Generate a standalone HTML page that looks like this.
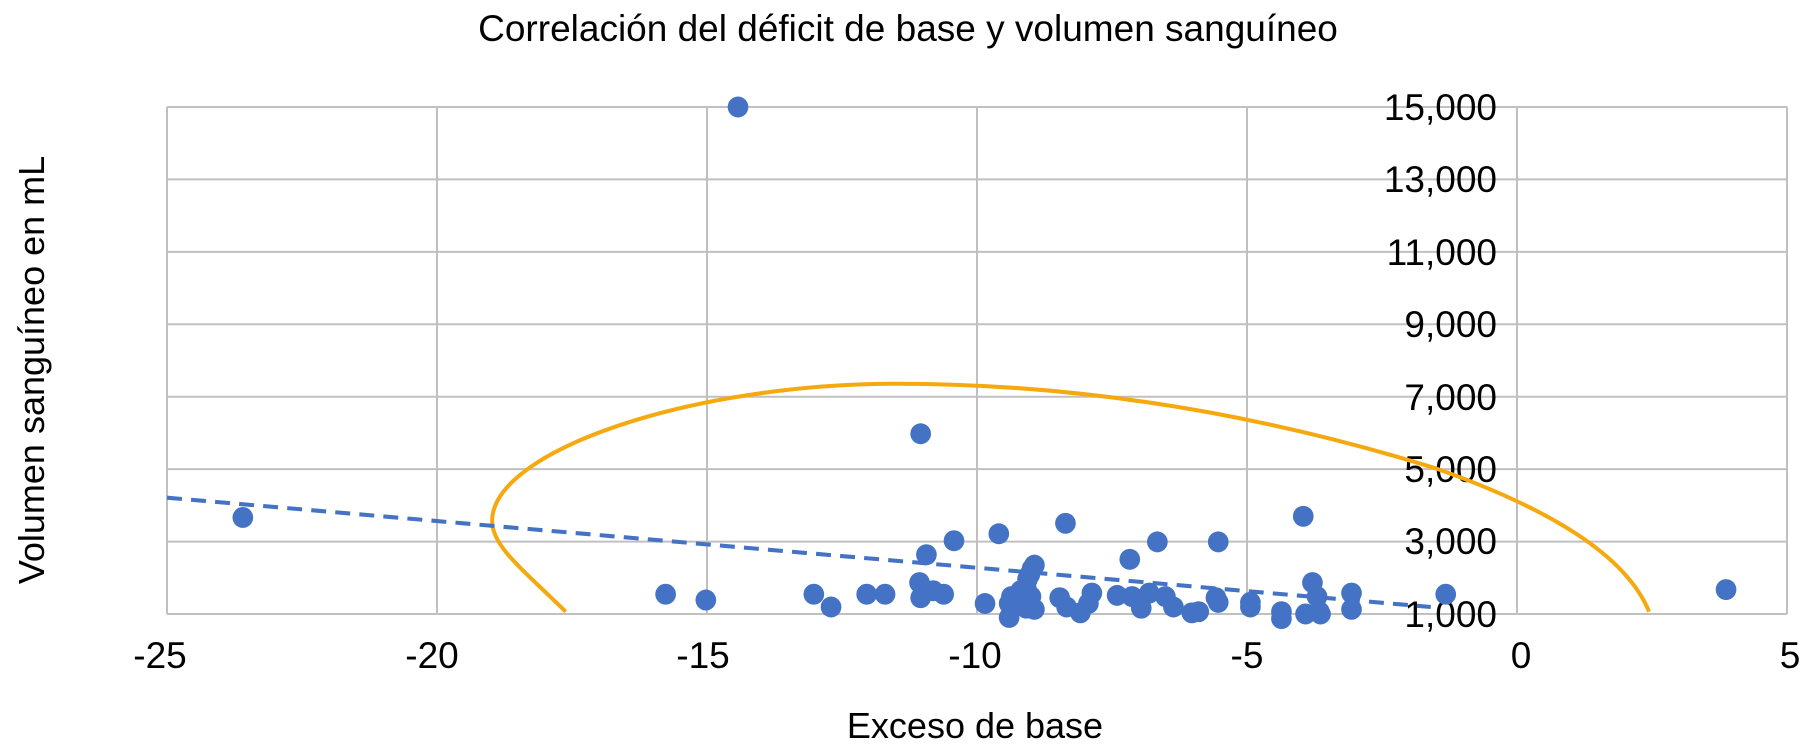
<!DOCTYPE html>
<html><head><meta charset="utf-8"><style>
html,body{margin:0;padding:0;background:#fff;}
svg{display:block;font-family:"Liberation Sans",Arial,sans-serif;}
</style></head><body>
<svg width="1800" height="756" viewBox="0 0 1800 756" xmlns="http://www.w3.org/2000/svg">
<rect width="1800" height="756" fill="#fff"/>
<text x="908" y="41" font-size="37" text-anchor="middle" fill="#000">Correlación del déficit de base y volumen sanguíneo</text>
<g stroke="#c0c0c0" stroke-width="2" fill="none">
<line x1="167" y1="107" x2="1787" y2="107"/>
<line x1="167" y1="179.4" x2="1787" y2="179.4"/>
<line x1="167" y1="251.9" x2="1787" y2="251.9"/>
<line x1="167" y1="324.3" x2="1787" y2="324.3"/>
<line x1="167" y1="396.7" x2="1787" y2="396.7"/>
<line x1="167" y1="469.1" x2="1787" y2="469.1"/>
<line x1="167" y1="541.6" x2="1787" y2="541.6"/>
<line x1="167" y1="614" x2="1787" y2="614"/>
<line x1="167" y1="107" x2="167" y2="614"/>
<line x1="437" y1="107" x2="437" y2="614"/>
<line x1="707" y1="107" x2="707" y2="614"/>
<line x1="977" y1="107" x2="977" y2="614"/>
<line x1="1247" y1="107" x2="1247" y2="614"/>
<line x1="1517" y1="107" x2="1517" y2="614"/>
<line x1="1787" y1="107" x2="1787" y2="614"/>
</g>
<g font-size="37" fill="#000" text-anchor="end">
<text x="1497" y="120">15,000</text>
<text x="1497" y="192">13,000</text>
<text x="1497" y="265">11,000</text>
<text x="1497" y="337">9,000</text>
<text x="1497" y="410">7,000</text>
<text x="1497" y="482">5,000</text>
<text x="1497" y="554">3,000</text>
<text x="1497" y="627">1,000</text>
</g>
<g font-size="37" fill="#000" text-anchor="middle">
<text x="160" y="668">-25</text>
<text x="432" y="668">-20</text>
<text x="703" y="668">-15</text>
<text x="975" y="668">-10</text>
<text x="1247" y="668">-5</text>
<text x="1521" y="668">0</text>
<text x="1790" y="668">5</text>
</g>
<text x="975" y="738" font-size="36" text-anchor="middle" fill="#000">Exceso de base</text>
<text transform="translate(44,370) rotate(-90)" font-size="36" text-anchor="middle" fill="#000">Volumen sanguíneo en mL</text>
<g transform="translate(167,107) scale(1.1489,1.1628) translate(-145,-94)">
<path d="M492,528 C455,492 428,472 428,450 C428,390 600,332 780,332 C960,332 1120,365 1250,405 C1350,440 1415,480 1435,528" fill="none" stroke="#F5A90E" stroke-width="3.5"/>
<line x1="145" y1="430" x2="1245" y2="524" stroke="#4472C4" stroke-width="3.5" stroke-dasharray="13,8"/>
<g fill="#4472C4">
<circle cx="642" cy="94" r="9"/><circle cx="211" cy="447" r="9"/><circle cx="579" cy="513" r="9"/><circle cx="614" cy="518" r="9"/><circle cx="801" cy="375" r="9"/><circle cx="1134" cy="446" r="9"/><circle cx="1502" cy="509" r="9"/><circle cx="708" cy="513" r="9"/><circle cx="723" cy="524" r="9"/><circle cx="754" cy="513" r="9"/><circle cx="770" cy="513" r="9"/><circle cx="800" cy="503" r="9"/><circle cx="801" cy="516" r="9"/><circle cx="806" cy="479" r="9"/><circle cx="812" cy="510" r="9"/><circle cx="821" cy="513" r="9"/><circle cx="830" cy="467" r="9"/><circle cx="857" cy="521" r="9"/><circle cx="869" cy="461" r="9"/><circle cx="878" cy="521" r="9"/><circle cx="880" cy="515" r="9"/><circle cx="885" cy="514" r="9"/><circle cx="888" cy="510" r="9"/><circle cx="893" cy="508" r="9"/><circle cx="894" cy="500" r="9"/><circle cx="896" cy="496" r="9"/><circle cx="898" cy="491" r="9"/><circle cx="900" cy="488" r="9"/><circle cx="897" cy="515" r="9"/><circle cx="893" cy="525" r="9"/><circle cx="878" cy="533" r="9"/><circle cx="900" cy="526" r="9"/><circle cx="922" cy="516" r="9"/><circle cx="927" cy="452" r="9"/><circle cx="928" cy="524" r="9"/><circle cx="940" cy="529" r="9"/><circle cx="947" cy="521" r="9"/><circle cx="950" cy="512" r="9"/><circle cx="972" cy="514" r="9"/><circle cx="983" cy="483" r="9"/><circle cx="985" cy="515" r="9"/><circle cx="993" cy="525" r="9"/><circle cx="1000" cy="512" r="9"/><circle cx="1007" cy="468" r="9"/><circle cx="1014" cy="515" r="9"/><circle cx="1021" cy="524" r="9"/><circle cx="1037" cy="529" r="9"/><circle cx="1043" cy="528" r="9"/><circle cx="1058" cy="516" r="9"/><circle cx="1060" cy="520" r="9"/><circle cx="1060" cy="468" r="9"/><circle cx="1088" cy="520" r="9"/><circle cx="1088" cy="524" r="9"/><circle cx="1115" cy="528" r="9"/><circle cx="1115" cy="534" r="9"/><circle cx="1136" cy="530" r="9"/><circle cx="1142" cy="503" r="9"/><circle cx="1146" cy="515" r="9"/><circle cx="1148" cy="528" r="9"/><circle cx="1149" cy="530" r="9"/><circle cx="1176" cy="512" r="9"/><circle cx="1176" cy="526" r="9"/><circle cx="1258" cy="513" r="9"/>
</g>
</g>
</svg>
</body></html>
